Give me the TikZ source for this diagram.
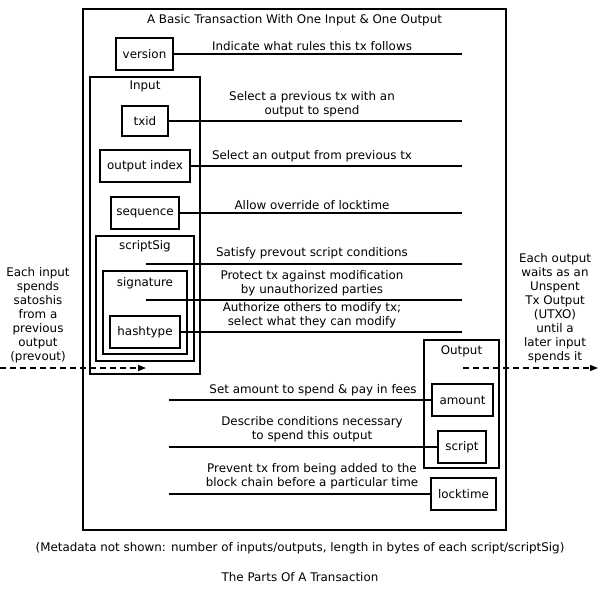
\documentclass[tikz,border=0pt]{standalone}
\usepackage{fontspec}
\setmainfont{DejaVu Sans}
\usetikzlibrary{arrows.meta}
\begin{document}
\begin{tikzpicture}[x=1pt,y=-1pt,
  every node/.style={font=\fontsize{11.9}{14}\selectfont},
  fld/.style={draw,line width=1.3pt,inner sep=0pt,align=center},
  grp/.style={draw,line width=1.3pt,inner sep=0pt},
  conn/.style={line width=1.3pt},
  lbl/.style={anchor=south,inner sep=1pt,align=center},
  side/.style={align=center,inner sep=0pt},
  flow/.style={line width=1.3pt,dash pattern=on 6pt off 4pt,-{Triangle[length=8pt,width=6pt]}}]
\useasboundingbox (0,0) rectangle (600,592);
\fill[white] (0,0) rectangle (600,592);
% containers
\node[grp,minimum width=423,minimum height=521,
  label={[anchor=center,yshift=-12pt]north:A Basic Transaction With One Input \& One Output}] (tx) at (294.5,269.5) {};
\node[grp,minimum width=110,minimum height=297,
  label={[anchor=center,yshift=-10pt]north:Input}] (input) at (145,225.5) {};
\node[grp,minimum width=98,minimum height=125,
  label={[anchor=center,yshift=-10.5pt]north:scriptSig}] (scriptsig) at (145,298.5) {};
\node[grp,minimum width=84,minimum height=83,
  label={[anchor=center,yshift=-12.5pt]north:signature}] (signature) at (145,312.5) {};
\node[grp,minimum width=75,minimum height=128,
  label={[anchor=center,yshift=-12pt]north:Output}] (output) at (461.5,404) {};
% fields
\node[fld,minimum width=57,minimum height=32] (version) at (144.5,54) {version};
\node[fld,minimum width=46,minimum height=30] (txid) at (145,121) {txid};
\node[fld,minimum width=90,minimum height=32] (oindex) at (145,166) {output index};
\node[fld,minimum width=68,minimum height=32] (sequence) at (145,213) {sequence};
\node[fld,minimum width=70,minimum height=32] (hashtype) at (145,332) {hashtype};
\node[fld,minimum width=61,minimum height=32] (amount) at (462.5,400) {amount};
\node[fld,minimum width=48,minimum height=32] (script) at (462,447) {script};
\node[fld,minimum width=65,minimum height=32] (locktime) at (463.5,494) {locktime};
% connector end points
\coordinate (e1) at (462,54);
\coordinate (e2) at (462,121);
\coordinate (e3) at (462,166);
\coordinate (e4) at (462,213);
\coordinate (s5) at (146,264);
\coordinate (e5) at (462,264);
\coordinate (s6) at (146,300);
\coordinate (e6) at (462,300);
\coordinate (e7) at (462,332);
\coordinate (s8) at (169,400);
\coordinate (s9) at (169,447);
\coordinate (s10) at (169,494);
% connectors
\draw[conn] (version.east) -- (e1);
\draw[conn] (txid.east) -- (e2);
\draw[conn] (oindex.east) -- (e3);
\draw[conn] (sequence.east) -- (e4);
\draw[conn] (s5) -- (e5);
\draw[conn] (s6) -- (e6);
\draw[conn] (hashtype.east) -- (e7);
\draw[conn] (s8) -- (amount.west);
\draw[conn] (s9) -- (script.west);
\draw[conn] (s10) -- (locktime.west);
% labels
\node[lbl] (l1) at (312,52) {Indicate what rules this tx follows};
\node[lbl] (l2) at (312,118) {Select a previous tx with an\\output to spend};
\node[lbl] (l3) at (312,163) {Select an output from previous tx};
\node[lbl] (l4) at (312,211) {Allow override of locktime};
\node[lbl] (l5) at (312,260) {Satisfy prevout script conditions};
\node[lbl] (l6) at (312,297) {Protect tx against modification\\by unauthorized parties};
\node[lbl] (l7) at (312,329) {Authorize others to modify tx;\\select what they can modify};
\node[lbl] (l8) at (313,397) {Set amount to spend \& pay in fees};
\node[lbl] (l9) at (312,443) {Describe conditions necessary\\to spend this output};
\node[lbl] (l10) at (312,490) {Prevent tx from being added to the\\block chain before a particular time};
% side texts and flow arrows
\node[side] (intext) at (38,315) {Each input\\spends\\satoshis\\from a\\previous\\output\\(prevout)};
\node[side] (outtext) at (555,308) {Each output\\waits as an\\Unspent\\Tx Output\\(UTXO)\\until a\\later input\\spends it};
\coordinate (fin0) at (0,368);
\coordinate (fin1) at (146,368);
\coordinate (fout0) at (463,368);
\coordinate (fout1) at (598,368);
\draw[flow] (fin0) -- (fin1);
\draw[flow] (fout0) -- (fout1);
% captions
\node (meta) at (300,548) {(Metadata not shown: number of inputs/outputs, length in bytes of each script/scriptSig)};
\node (cap) at (300,577) {The Parts Of A Transaction};
\end{tikzpicture}
\end{document}
